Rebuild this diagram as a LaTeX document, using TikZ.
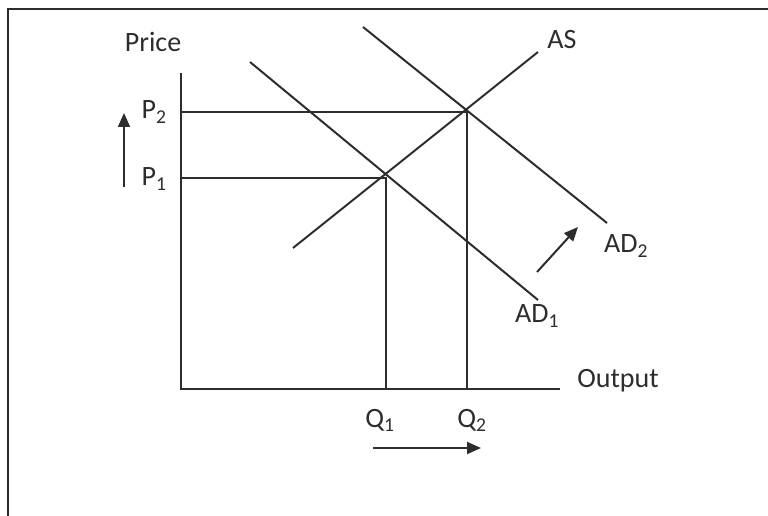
\documentclass[tikz,border=0pt]{standalone}
\usepackage{fontspec}
\setmainfont{Carlito}
\usepackage{tikz}
\usetikzlibrary{arrows.meta}
\definecolor{ink}{RGB}{45,45,45}

\begin{document}
\begin{tikzpicture}[
  x=1pt, y=-1pt,
  every node/.style={font=\fontsize{28}{32}\selectfont, text=ink, inner sep=0pt},
  curve/.style={line width=2pt, ink},
  guide/.style={line width=2pt, ink},
  moveto/.style={-{Triangle[length=14pt, width=12pt]}, line width=2pt, ink},
]
\useasboundingbox (0,0) rectangle (768,516);
\draw[line width=2.2pt, ink] (768,9) -- (8,9) -- (8,516);

% axes
\coordinate (o) at (181,389);
\coordinate (ytop) at (181,73);
\coordinate (xend) at (560,389);
\draw[guide] (ytop) -- (o) -- (xend);

% equilibria
\coordinate (e1) at (386,178);
\coordinate (e2) at (467,112);
\coordinate (p1) at (181,178);
\coordinate (p2) at (181,112);
\coordinate (q1) at (386,389);
\coordinate (q2) at (467,389);
\draw[guide] (p1) -- (e1) -- (q1);
\draw[guide] (p2) -- (e2) -- (q2);

% curves
\coordinate (as0) at (293,248);
\coordinate (as1) at (538,52);
\coordinate (ad10) at (250,62);
\coordinate (ad11) at (538,300);
\coordinate (ad20) at (363,27);
\coordinate (ad21) at (607,223);
\draw[curve] (as0) -- (as1);
\draw[curve] (ad10) -- (ad11);
\draw[curve] (ad20) -- (ad21);

% labels
\node (price) at (153,42) {Price};
\node (output) at (618,381) {Output};
\node (lp2) at (154,112) {P\textsubscript{2}};
\node (lp1) at (154,179) {P\textsubscript{1}};
\node (lq1) at (380,420) {Q\textsubscript{1}};
\node (lq2) at (472,420) {Q\textsubscript{2}};
\node (las) at (562,40) {AS};
\node (lad2) at (626,246) {AD\textsubscript{2}};
\node (lad1) at (537,316) {AD\textsubscript{1}};

% shifts
\coordinate (up0) at (124,187);
\coordinate (up1) at (124,113);
\coordinate (dg0) at (537,272);
\coordinate (dg1) at (578,227);
\coordinate (rt0) at (373,448);
\coordinate (rt1) at (481,448);
\draw[moveto] (up0) -- (up1);
\draw[moveto] (dg0) -- (dg1);
\draw[moveto] (rt0) -- (rt1);
\end{tikzpicture}
\end{document}
